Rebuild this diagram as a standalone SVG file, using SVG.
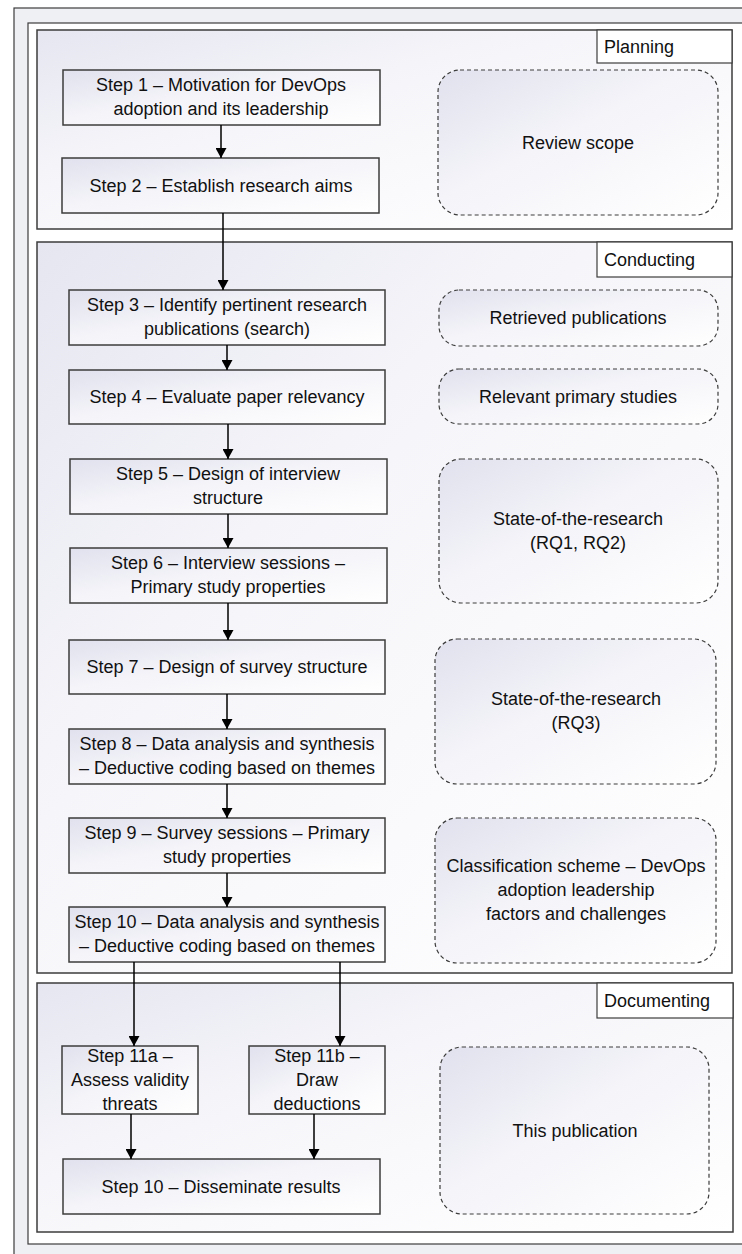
<svg xmlns="http://www.w3.org/2000/svg" width="742" height="1254" viewBox="0 0 742 1254">
<style>
text{font-family:"Liberation Sans",Arial,sans-serif;font-size:18px;fill:#111;}
.c{text-anchor:middle;}
.box{fill:url(#gBox);stroke:#3c3c3c;stroke-width:1.5;}
.panel{fill:url(#gPanel);stroke:#3c3c3c;stroke-width:1.5;}
.lbl{fill:#fff;stroke:#3c3c3c;stroke-width:1.2;}
.dash{fill:url(#gBox);stroke:#3c3c3c;stroke-width:1.2;stroke-dasharray:4 3;}
.conn line{stroke:#000;stroke-width:1.5;marker-end:url(#arr);}
</style>
<defs>
<linearGradient id="gBox" x1="0" y1="0" x2="1" y2="1">
<stop offset="0" stop-color="#e1e1ee"/>
<stop offset="0.45" stop-color="#f4f4f9"/>
<stop offset="1" stop-color="#ffffff"/>
</linearGradient>
<linearGradient id="gPanel" x1="0" y1="0" x2="1" y2="1">
<stop offset="0" stop-color="#e6e6f1"/>
<stop offset="0.4" stop-color="#f6f6fa"/>
<stop offset="1" stop-color="#ffffff"/>
</linearGradient>
<marker id="arr" markerUnits="userSpaceOnUse" markerWidth="10" markerHeight="11" refX="10" refY="5.5" orient="auto">
<path d="M0,0 L10,5.5 L0,11 z" fill="#000"/>
</marker>
</defs>
<rect x="0" y="0" width="742" height="1254" fill="#fff"/>
<g id="frame">
<rect x="14" y="8" width="740" height="1260" fill="#eff0f4" stroke="#3c3c3c" stroke-width="1.2"/>
<rect x="28" y="23" width="730" height="1221" fill="#fff" stroke="#3c3c3c" stroke-width="1.2"/>
</g>
<g id="planning">
<rect class="panel" x="37" y="30" width="695" height="199"/>
<rect class="lbl" x="597" y="30" width="135" height="33"/>
<text x="604" y="53">Planning</text>
</g>
<g id="conducting">
<rect class="panel" x="37" y="242" width="695" height="731"/>
<rect class="lbl" x="597" y="242" width="135" height="35"/>
<text x="604" y="266">Conducting</text>
</g>
<g id="documenting">
<rect class="panel" x="37" y="983" width="696" height="249"/>
<rect class="lbl" x="597" y="983" width="136" height="35"/>
<text x="604" y="1007">Documenting</text>
</g>
<g id="step1"><rect class="box" x="63" y="70" width="317" height="55"/><text class="c" x="221" y="91">Step 1 – Motivation for DevOps</text><text class="c" x="221" y="115">adoption and its leadership</text></g>
<g id="step2"><rect class="box" x="62" y="158" width="317" height="55"/><text class="c" x="221" y="192">Step 2 – Establish research aims</text></g>
<g id="step3"><rect class="box" x="69" y="290" width="316" height="55"/><text class="c" x="227" y="311">Step 3 – Identify pertinent research</text><text class="c" x="227" y="335">publications (search)</text></g>
<g id="step4"><rect class="box" x="69" y="370" width="316" height="54"/><text class="c" x="227" y="403">Step 4 – Evaluate paper relevancy</text></g>
<g id="step5"><rect class="box" x="70" y="459" width="317" height="55"/><text class="c" x="228" y="480">Step 5 – Design of interview</text><text class="c" x="228" y="504">structure</text></g>
<g id="step6"><rect class="box" x="70" y="548" width="317" height="55"/><text class="c" x="228" y="569">Step 6 – Interview sessions –</text><text class="c" x="228" y="593">Primary study properties</text></g>
<g id="step7"><rect class="box" x="69" y="640" width="316" height="54"/><text class="c" x="227" y="673">Step 7 – Design of survey structure</text></g>
<g id="step8"><rect class="box" x="69" y="729" width="316" height="55"/><text class="c" x="227" y="750">Step 8 – Data analysis and synthesis</text><text class="c" x="227" y="774">– Deductive coding based on themes</text></g>
<g id="step9"><rect class="box" x="69" y="818" width="316" height="55"/><text class="c" x="227" y="839">Step 9 – Survey sessions – Primary</text><text class="c" x="227" y="863">study properties</text></g>
<g id="step10"><rect class="box" x="69" y="907" width="316" height="55"/><text class="c" x="227" y="928">Step 10 – Data analysis and synthesis</text><text class="c" x="227" y="952">– Deductive coding based on themes</text></g>
<g id="step11a"><rect class="box" x="62" y="1046" width="136" height="68"/><text class="c" x="130" y="1062">Step 11a –</text><text class="c" x="130" y="1086">Assess validity</text><text class="c" x="130" y="1110">threats</text></g>
<g id="step11b"><rect class="box" x="249" y="1046" width="136" height="68"/><text class="c" x="317" y="1062">Step 11b –</text><text class="c" x="317" y="1086">Draw</text><text class="c" x="317" y="1110">deductions</text></g>
<g id="step12"><rect class="box" x="63" y="1159" width="317" height="55"/><text class="c" x="221" y="1193">Step 10 – Disseminate results</text></g>
<g id="reviewScope"><rect class="dash" x="438" y="70" width="280" height="145" rx="22"/><text class="c" x="578" y="149">Review scope</text></g>
<g id="retrieved"><rect class="dash" x="439" y="290" width="279" height="56" rx="20"/><text class="c" x="578" y="324">Retrieved publications</text></g>
<g id="relevant"><rect class="dash" x="439" y="369" width="279" height="55" rx="20"/><text class="c" x="578" y="403">Relevant primary studies</text></g>
<g id="sotr12"><rect class="dash" x="439" y="459" width="279" height="144" rx="22"/><text class="c" x="578" y="525">State-of-the-research</text><text class="c" x="578" y="549">(RQ1, RQ2)</text></g>
<g id="sotr3"><rect class="dash" x="435" y="639" width="281" height="145" rx="22"/><text class="c" x="576" y="705">State-of-the-research</text><text class="c" x="576" y="729">(RQ3)</text></g>
<g id="classification"><rect class="dash" x="435" y="818" width="281" height="145" rx="22"/><text class="c" x="576" y="872">Classification scheme – DevOps</text><text class="c" x="576" y="896">adoption leadership</text><text class="c" x="576" y="920">factors and challenges</text></g>
<g id="publication"><rect class="dash" x="440" y="1047" width="269" height="167" rx="22"/><text class="c" x="575" y="1137">This publication</text></g>
<g id="connectors" class="conn">
<line x1="221" y1="125" x2="221" y2="158"/>
<line x1="223" y1="213" x2="223" y2="290"/>
<line x1="227" y1="345" x2="227" y2="370"/>
<line x1="228" y1="424" x2="228" y2="459"/>
<line x1="228" y1="514" x2="228" y2="548"/>
<line x1="228" y1="603" x2="228" y2="640"/>
<line x1="227" y1="694" x2="227" y2="729"/>
<line x1="227" y1="784" x2="227" y2="818"/>
<line x1="227" y1="873" x2="227" y2="907"/>
<line x1="134" y1="962" x2="134" y2="1046"/>
<line x1="340" y1="962" x2="340" y2="1046"/>
<line x1="131" y1="1114" x2="131" y2="1159"/>
<line x1="314" y1="1114" x2="314" y2="1159"/>
</g>
</svg>
